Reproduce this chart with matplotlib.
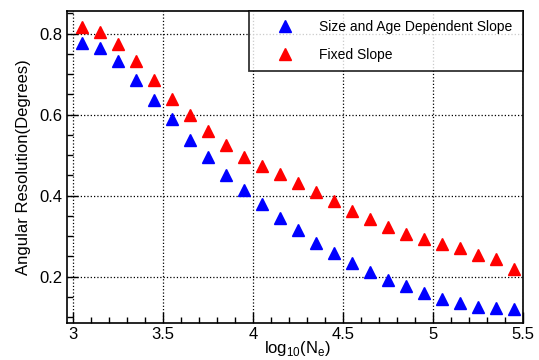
import numpy as np
import matplotlib
matplotlib.use("Agg")
import matplotlib.pyplot as plt
from matplotlib.ticker import MultipleLocator

plt.rcParams['font.family'] = ['Liberation Sans', 'DejaVu Sans']
plt.rcParams['mathtext.fontset'] = 'custom'
plt.rcParams['mathtext.rm'] = 'Liberation Sans'

# log10(Ne) bin centres
log_ne = [3.05, 3.15, 3.25, 3.35, 3.45, 3.55, 3.65, 3.75, 3.85, 3.95,
          4.05, 4.15, 4.25, 4.35, 4.45, 4.55, 4.65, 4.75, 4.85, 4.95,
          5.05, 5.15, 5.25, 5.35, 5.45]
# angular resolution (degrees)
res_size_age = [0.777, 0.764, 0.733, 0.686, 0.637, 0.588, 0.538, 0.495, 0.452, 0.413,
                0.378, 0.345, 0.314, 0.282, 0.258, 0.233, 0.211, 0.192, 0.176, 0.160,
                0.145, 0.134, 0.126, 0.122, 0.119]
res_fixed = [0.817, 0.803, 0.775, 0.732, 0.686, 0.638, 0.598, 0.559, 0.525, 0.495,
             0.474, 0.454, 0.431, 0.410, 0.386, 0.363, 0.341, 0.322, 0.305, 0.293,
             0.281, 0.270, 0.254, 0.244, 0.219]

fig = plt.figure(figsize=(5.39, 3.6), dpi=100)
ax = fig.add_axes([0.1243, 0.1036, 0.846, 0.867])

ax.plot(log_ne, res_size_age, ls='none', marker='^', ms=8, color='blue',
        label='Size and Age Dependent Slope')
ax.plot(log_ne, res_fixed, ls='none', marker='^', ms=8, color='red',
        label='Fixed Slope')

ax.set_xlim(2.967, 5.5)
ax.set_ylim(0.086, 0.857)
ax.xaxis.set_minor_locator(MultipleLocator(0.1))
ax.yaxis.set_minor_locator(MultipleLocator(0.05))
ax.set_xticks([3, 3.5, 4, 4.5, 5, 5.5])
ax.set_xticklabels(['3', '3.5', '4', '4.5', '5', '5.5'])
ax.set_yticks([0.2, 0.4, 0.6, 0.8])
ax.set_yticklabels(['0.2', '0.4', '0.6', '0.8'])
ax.tick_params(which='both', direction='in', top=False, right=False, labelsize=12)
ax.tick_params(which='major', length=8, width=1)
ax.tick_params(which='minor', length=4, width=1)
ax.tick_params(axis='x', pad=3)
ax.tick_params(axis='y', pad=3)
ax.grid(True, which='major', ls=':', color='black', lw=0.9)
for s in ax.spines.values():
    s.set_linewidth(1.2)

ax.set_xlabel(r'log$_{\mathrm{10}}$(N$_{\mathrm{e}}$)', fontsize=12, va='top')
ax.xaxis.set_label_coords(0.505, -0.052)
ax.set_ylabel('Angular Resolution(Degrees)', fontsize=12, labelpad=6)

leg = ax.legend(loc='upper left', bbox_to_anchor=(0.399, 0.817, 0.601, 0.183),
                mode='expand', borderaxespad=0, fontsize=10, frameon=True,
                fancybox=False, edgecolor='black', handletextpad=0.55,
                labelspacing=0.95, borderpad=0.7, handlelength=3.8)
leg.get_frame().set_linewidth(1.3)

fig.savefig('out.png', dpi=100)
